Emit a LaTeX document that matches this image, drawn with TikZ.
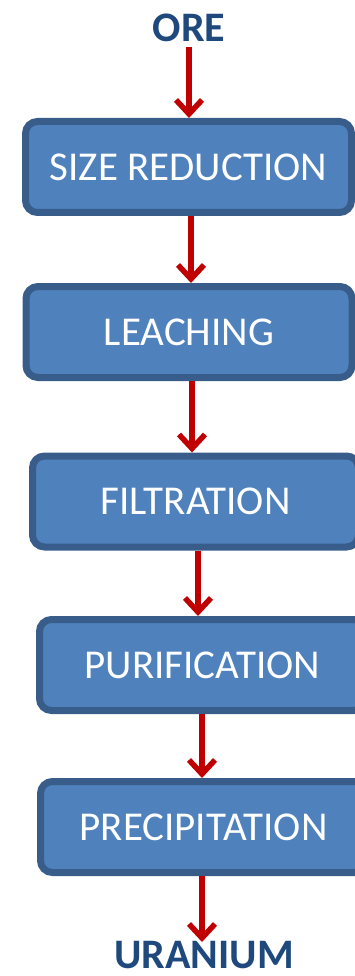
\documentclass[tikz,border=0pt]{standalone}
\usepackage{fontspec}
\setmainfont{Carlito}
\usetikzlibrary{arrows.meta}
\definecolor{boxfill}{HTML}{4F81BD}
\definecolor{boxline}{HTML}{385D8A}
\definecolor{arrred}{HTML}{C00000}
\definecolor{titleblue}{HTML}{1F497D}
\tikzset{
  stepbox/.style={draw=boxline, fill=boxfill, line width=7pt, rounded corners=12pt,
    minimum width=326pt, minimum height=91pt, inner sep=0pt, text=white,
    font=\fontsize{41}{44}\selectfont},
  endlabel/.style={text=titleblue, inner sep=0pt, font=\bfseries\fontsize{42}{44}\selectfont},
  arr/.style={draw=arrred, line width=5.5pt, -{Straight Barb[length=14pt,width=26pt]}}
}
\begin{document}
\begin{tikzpicture}[x=1pt,y=-1pt]
\useasboundingbox (0,0) rectangle (354,976);
\node[endlabel] (ore) at (189,28) {ORE};
\node[stepbox] (b1) at (188.5,167) {SIZE REDUCTION};
\node[stepbox] (b2) at (189,332) {LEACHING};
\node[stepbox] (b3) at (195.5,501.5) {FILTRATION};
\node[stepbox] (b4) at (202.5,665) {PURIFICATION};
\node[stepbox] (b5) at (203.5,827) {PRECIPITATION};
\node[endlabel, anchor=base] (ur) at (204,968) {URANIUM};
\coordinate (x0) at (189,0);
\coordinate (x1) at (191,0);
\coordinate (x2) at (192,0);
\coordinate (x3) at (198,0);
\coordinate (x4) at (202,0);
\coordinate (x5) at (202,0);
\coordinate (s0) at (189,47);
\coordinate (e5) at (202,942);
\draw[arr] (s0) -- (b1.north -| x0);
\draw[arr] (b1.south -| x1) -- (b2.north -| x1);
\draw[arr] (b2.south -| x2) -- (b3.north -| x2);
\draw[arr] (b3.south -| x3) -- (b4.north -| x3);
\draw[arr] (b4.south -| x4) -- (b5.north -| x4);
\draw[arr] (b5.south -| x5) -- (e5);
\end{tikzpicture}
\end{document}
